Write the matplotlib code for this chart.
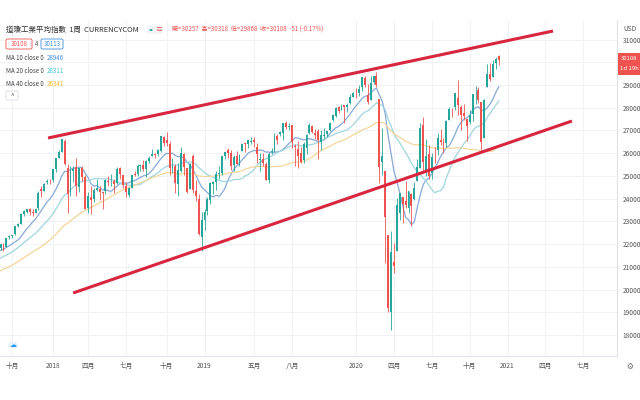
import numpy as np
import pandas as pd
import matplotlib
matplotlib.use("Agg")
import matplotlib.pyplot as plt
from matplotlib.patches import Rectangle, FancyBboxPatch

plt.rcParams['font.family'] = ['Noto Sans CJK TC', 'DejaVu Sans']

# ---------------- data ----------------
start_date = "2017-08-28"   # first weekly candle (Monday)

# weekly closes before the first visible candle (MA warm-up)
warmup_closes = [19171, 19757, 19843, 19934, 19763, 19964, 19886, 19827, 20094, 20071,
                 20269, 20624, 20822, 21005, 20903, 20914, 20597, 20663, 20656, 20453,
                 20548, 20941, 21007, 20897, 20805, 21080, 21206, 21272, 21384, 21395,
                 21350, 21414, 21638, 21580, 21830, 22092, 21858, 21675, 21814]

opens = [21835, 21988, 21862, 22299, 22351, 22423, 22781, 22881, 23328, 23412, 23557, 23396, 23366, 23571,
         24424, 24357, 24726, 24746,
         24809, 25309, 25809, 26073, 26549, 25338, 24268, 25200, 25388, 24532, 25336, 24940, 23600,
         24076, 23964, 24398, 24425, 24302, 24317, 24790, 24713, 24768, 24689, 25330, 25044, 24548,
         24161, 24470, 25060, 25097, 25418, 25485, 25317, 25669, 25889, 25953, 25948, 26105, 26720,
         26598, 26409, 25351, 25452, 24656, 25234, 25944, 25366, 24412, 25876, 24332, 23984, 22317, 23047,
         23474, 23953, 24656, 24717, 25062, 25106, 25894, 26126, 26019, 25460, 25877, 25470,
         26075, 26424, 26390, 26501, 26574, 26292, 25679, 25763, 25542, 24808, 26050, 26111, 26751,
         26840, 26883, 27346, 27171, 27221, 26325, 26205, 26017, 25692, 26248, 26882, 27178, 26902,
         26962, 26479, 26767, 26827, 27033, 27462, 27628, 28041, 27912, 28109, 28019, 28191, 28491, 28654,
         28634, 28908, 29316, 28542, 28320, 29129, 29381, 28402, 25590, 25206, 22400, 19028,
         21227, 21693, 23388, 24058, 23903, 23581, 24221, 24001, 24782, 25342, 27232, 25152, 25942,
         25141, 26101, 26148, 26590, 26471, 26453, 27455, 27962, 28048, 28443, 28042, 27789, 27522,
         27367, 27718, 28583, 28762, 28235, 26681, 28904, 29466, 29360, 29979, 30257]
highs = [22016, 22029, 22275, 22419, 22416, 22777, 22906, 23368, 23485, 23557, 23602, 23531, 23602, 24327,
         24534, 24669, 24876, 24872,
         25299, 25804, 26153, 26617, 26608, 25520, 25432, 25432, 25800, 25368, 25449, 25045, 24308,
         24540, 24480, 24858, 24572, 24313, 24863, 24983, 25086, 24859, 25402, 25411, 25044, 24713,
         24510, 25020, 25215, 25528, 25542, 25692, 25717, 25891, 26167, 26018, 26169, 26769, 26749,
         26951, 26519, 25800, 25513, 25583, 26277, 26016, 25366, 25581, 25982, 24816, 24192, 23404, 23545,
         24061, 24750, 24779, 25212, 25439, 25883, 26052, 26241, 26156, 25900, 26109, 25983,
         26425, 26451, 26559, 26696, 26695, 26454, 26000, 26002, 25600, 26063, 26210, 26907, 26838,
         26966, 27333, 27398, 27336, 27256, 26413, 26521, 26283, 26484, 26829, 27306, 27221, 27079,
         27046, 27000, 27120, 26982, 27381, 27710, 28038, 28091, 28175, 28109, 28224, 28582, 28702, 28873,
         28993, 29373, 29374, 29064, 29409, 29416, 29568, 28402, 27102, 25206, 22400, 22595,
         22051, 24009, 24264, 24058, 24765, 24339, 24269, 24750, 25758, 27338, 27580, 26611, 26339,
         25993, 26291, 26888, 27050, 26677, 27449, 28033, 28000, 28656, 29199, 28100, 28149, 27522,
         27892, 28587, 28959, 28902, 28235, 28364, 29933, 29964, 30116, 30240, 30318]
lows = [21761, 21709, 21862, 22223, 22269, 22416, 22749, 22862, 23242, 23350, 23271, 23242, 23366, 23510,
        24067, 24357, 24650, 24660,
        24741, 25193, 25776, 26045, 25490, 23360, 24114, 24741, 24116, 24300, 24776, 23533, 23346,
        23344, 23850, 24339, 23938, 23532, 24217, 24565, 24572, 24252, 24641, 24842, 24472, 24082,
        24084, 24470, 24997, 25009, 25228, 25222, 24965, 25553, 25889, 25784, 25874, 26059, 26325,
        26331, 25052, 25149, 24268, 24122, 25176, 25019, 24268, 24412, 24242, 23882, 22396, 21713, 22638,
        23284, 23746, 24206, 24395, 24884, 25053, 25751, 25803, 25253, 25208, 25502, 25415,
        26075, 26059, 26248, 26389, 26261, 25576, 25222, 25450, 24815, 24681, 25965, 26066, 26403,
        26754, 26579, 27068, 27027, 26227, 25442, 25339, 25588, 25588, 25978, 26851, 26880, 26605,
        25743, 26136, 26685, 26717, 26959, 27416, 27573, 27752, 27912, 27325, 27829, 28173, 28469, 28418,
        28507, 28754, 28911, 28169, 28320, 29049, 28925, 24681, 25024, 21154, 19029, 18214,
        20736, 21693, 23062, 22942, 23583, 23361, 22789, 23957, 24782, 25342, 25128, 25002, 24854,
        24843, 25584, 25939, 26358, 25992, 26279, 27455, 27585, 27897, 27665, 27019, 27442, 26537,
        27296, 27418, 28176, 28217, 26143, 26681, 28904, 29155, 29360, 29717, 29868]
closes = [21988, 21798, 22268, 22350, 22405, 22774, 22871, 23329, 23434, 23539, 23422, 23358, 23558, 24231,
          24329, 24652, 24754, 24719,
          25295, 25803, 26072, 26617, 25521, 24190, 25219, 25310, 24538, 25336, 24946, 23533, 24103,
          23933, 24360, 24463, 24311, 24263, 24831, 24715, 24753, 24635, 25317, 25090, 24581, 24271,
          24456, 25019, 25058, 25451, 25463, 25313, 25669, 25790, 25965, 25917, 26155, 26744, 26458,
          26447, 25340, 25444, 24688, 25271, 25989, 25413, 24286, 25538, 24389, 24101, 22445, 23062, 23433,
          23996, 24706, 24737, 25064, 25106, 25883, 26031, 26026, 25450, 25849, 25502, 25929,
          26425, 26412, 26559, 26543, 26505, 25942, 25764, 25586, 24815, 25984, 26090, 26719, 26600,
          26922, 27332, 27154, 27192, 26485, 26287, 25886, 25629, 26403, 26797, 27220, 26935, 26820,
          26573, 26817, 26770, 26958, 27347, 27681, 28005, 27876, 28051, 28015, 28135, 28455, 28645, 28635,
          28824, 29348, 28990, 28256, 29103, 29398, 28992, 25409, 25865, 23186, 19174, 21637,
          21053, 23720, 24242, 23775, 23724, 24331, 23685, 24465, 25383, 27111, 25606, 25871, 25016,
          25827, 26075, 26672, 26470, 26428, 27433, 27931, 27930, 28654, 28133, 27666, 27657, 27174,
          27683, 28587, 28606, 28336, 26502, 28323, 29479, 29263, 29910, 30159, 30108]

ma_periods = [10, 20, 40]
ma_colors = ['#86a9d6', '#9fd6df', '#f2d69a']
ma_value_colors = ['#3d8fe0', '#3fc3d6', '#f2b830']
ma_last = ['28946', '28311', '26341']

tick_dates = ["2017-10-01", "2018-01-01", "2018-04-01", "2018-07-01", "2018-10-01", "2019-01-01",
              "2019-05-01", "2019-08-01", "2020-01-01", "2020-04-01", "2020-07-01", "2020-10-01",
              "2021-01-01", "2021-04-01", "2021-07-01"]
tick_labels = ["十月", "2018", "四月", "七月", "十月", "2019", "五月", "八月", "2020", "四月",
               "七月", "十月", "2021", "四月", "七月"]

price_ticks = [18000, 19000, 20000, 21000, 22000, 23000, 24000, 25000, 26000, 27000, 28000, 29000, 31000]

# channel lines drawn on chart: (week index, price)
upper_line = [(16.3, 26668), (189.6, 31376)]
lower_line = [(24.9, 19848), (196.1, 27416)]

# ---------------- figure ----------------
W, H = 640, 400
fig = plt.figure(figsize=(6.4, 4.0), dpi=100)
fig.patch.set_facecolor('white')
ax = fig.add_axes([0, 44 / H, 617 / W, 336 / H])
ax.set_facecolor('white')

n = len(closes)
x = np.arange(n)
o = np.array(opens); h = np.array(highs); l = np.array(lows); c = np.array(closes)
up = c >= o
up_col, dn_col = '#26a69a', '#ef5350'
cols = np.where(up, up_col, dn_col)

# grid
t0 = pd.Timestamp(start_date)
tick_idx = [((pd.Timestamp(d) - t0).days // 7) for d in tick_dates]
for ti in tick_idx:
    ax.axvline(ti, color='#f0f2f6', lw=0.7, zorder=0)
for p in range(17000, 32001, 1000):
    ax.axhline(p, color='#f0f2f6', lw=0.7, zorder=0)

# moving averages
all_closes = pd.Series(warmup_closes + closes, dtype=float)
xa = np.arange(-len(warmup_closes), n)
for per, colr in zip(ma_periods, ma_colors):
    ma = all_closes.rolling(per).mean()
    ax.plot(xa, ma.values, color=colr, lw=0.9, zorder=2)

# candles
ax.vlines(x, l, h, colors=cols, lw=0.6, zorder=3)
body_lo = np.minimum(o, c)
body_h = np.maximum(np.abs(c - o), 25)
ax.bar(x, body_h, bottom=body_lo, width=0.66, color=cols, linewidth=0, zorder=4)

# channel lines
for ln in (upper_line, lower_line):
    ax.plot([ln[0][0], ln[1][0]], [ln[0][1], ln[1][1]], color='#d7263d', lw=2.2,
            solid_capstyle='butt', zorder=5)

ax.set_xlim(-0.19, 211.55)
ax.set_ylim(17076, 31860)

for s in ['top', 'left']:
    ax.spines[s].set_visible(False)
for s in ['right', 'bottom']:
    ax.spines[s].set_color('#e0e3eb')
    ax.spines[s].set_linewidth(0.8)

ax.set_xticks(tick_idx)
ax.set_xticklabels(tick_labels, fontsize=4.8, color='#555555')
ax.tick_params(axis='x', length=0, pad=4)
ax.yaxis.tick_right()
ax.set_yticks(price_ticks)
ax.set_yticklabels([str(p) for p in price_ticks], fontsize=4.8, color='#555555')
ax.tick_params(axis='y', length=0, pad=4)

def px(xp, yp):
    return xp / W, 1 - yp / H

# USD label
fig.text(*px(630, 29), "USD", fontsize=4.8, color='#555555', ha='center', va='center')

# last price box
fig.patches.append(Rectangle(px(618, 75), 22 / W, 22 / H, transform=fig.transFigure,
                             facecolor='#ef5350', edgecolor='none'))
fig.text(*px(629, 59), "30108", fontsize=4.3, color='white', ha='center', va='center')
fig.text(*px(629, 69), "1d 19h", fontsize=4.3, color='white', ha='center', va='center')

# header
fig.text(*px(6, 30), "道瓊工業平均指數  1周  CURRENCYCOM", fontsize=5.4, color='#333333',
         ha='left', va='center')
fig.patches.append(Rectangle(px(147, 34), 16 / W, 8 / H, transform=fig.transFigure,
                             facecolor='#f3f4f8', edgecolor='none'))
fig.patches.append(matplotlib.patches.Circle(px(151, 30), 1.6 / W, transform=fig.transFigure,
                                             facecolor='#26a69a', edgecolor='none'))
fig.text(*px(159, 30), "≡", fontsize=5, color='#ef5350', ha='center', va='center')
fig.text(*px(172, 30), "開=30257  高=30318  低=29868  收=30108  -51 (-0.17%)", fontsize=4.4,
         color='#ef5350', ha='left', va='center')

# bid/ask boxes
fig.patches.append(FancyBboxPatch(px(6, 49), 26 / W, 10 / H, boxstyle="round,pad=0,rounding_size=0.003",
                                  transform=fig.transFigure, facecolor='white', edgecolor='#ef5350', lw=0.6))
fig.text(*px(19, 44), "30108", fontsize=4.4, color='#ef5350', ha='center', va='center')
fig.text(*px(37, 44), "4", fontsize=4.4, color='#555555', ha='center', va='center')
fig.patches.append(FancyBboxPatch(px(41, 49), 22 / W, 10 / H, boxstyle="round,pad=0,rounding_size=0.003",
                                  transform=fig.transFigure, facecolor='white', edgecolor='#3d8fe0', lw=0.6))
fig.text(*px(52, 44), "30113", fontsize=4.4, color='#3d8fe0', ha='center', va='center')

# MA legend
for k, (per, vcol, val) in enumerate(zip(ma_periods, ma_value_colors, ma_last)):
    yy = 58 + 13 * k
    fig.text(*px(6, yy), f"MA {per} close 0", fontsize=4.4, color='#444444', ha='left', va='center')
    fig.text(*px(47, yy), val, fontsize=4.4, color=vcol, ha='left', va='center')

# collapse button
fig.patches.append(FancyBboxPatch(px(6, 100), 12 / W, 9 / H, boxstyle="round,pad=0,rounding_size=0.003",
                                  transform=fig.transFigure, facecolor='white', edgecolor='#d0d3da', lw=0.5))
fig.text(*px(12, 96), "^", fontsize=4.5, color='#555555', ha='center', va='center')

# logo and gear
fig.patches.append(matplotlib.patches.Circle(px(13, 345), 5 / W, transform=fig.transFigure,
                                             facecolor='#e3f2fd', edgecolor='none'))
fig.text(*px(13, 345), "☁", fontsize=5, color='#2196f3', ha='center', va='center',
         family=['DejaVu Sans'])
fig.text(*px(630, 366), "⚙", fontsize=5.5, color='#666666', ha='center', va='center',
         family=['DejaVu Sans'])

fig.savefig("out.png", dpi=100)
